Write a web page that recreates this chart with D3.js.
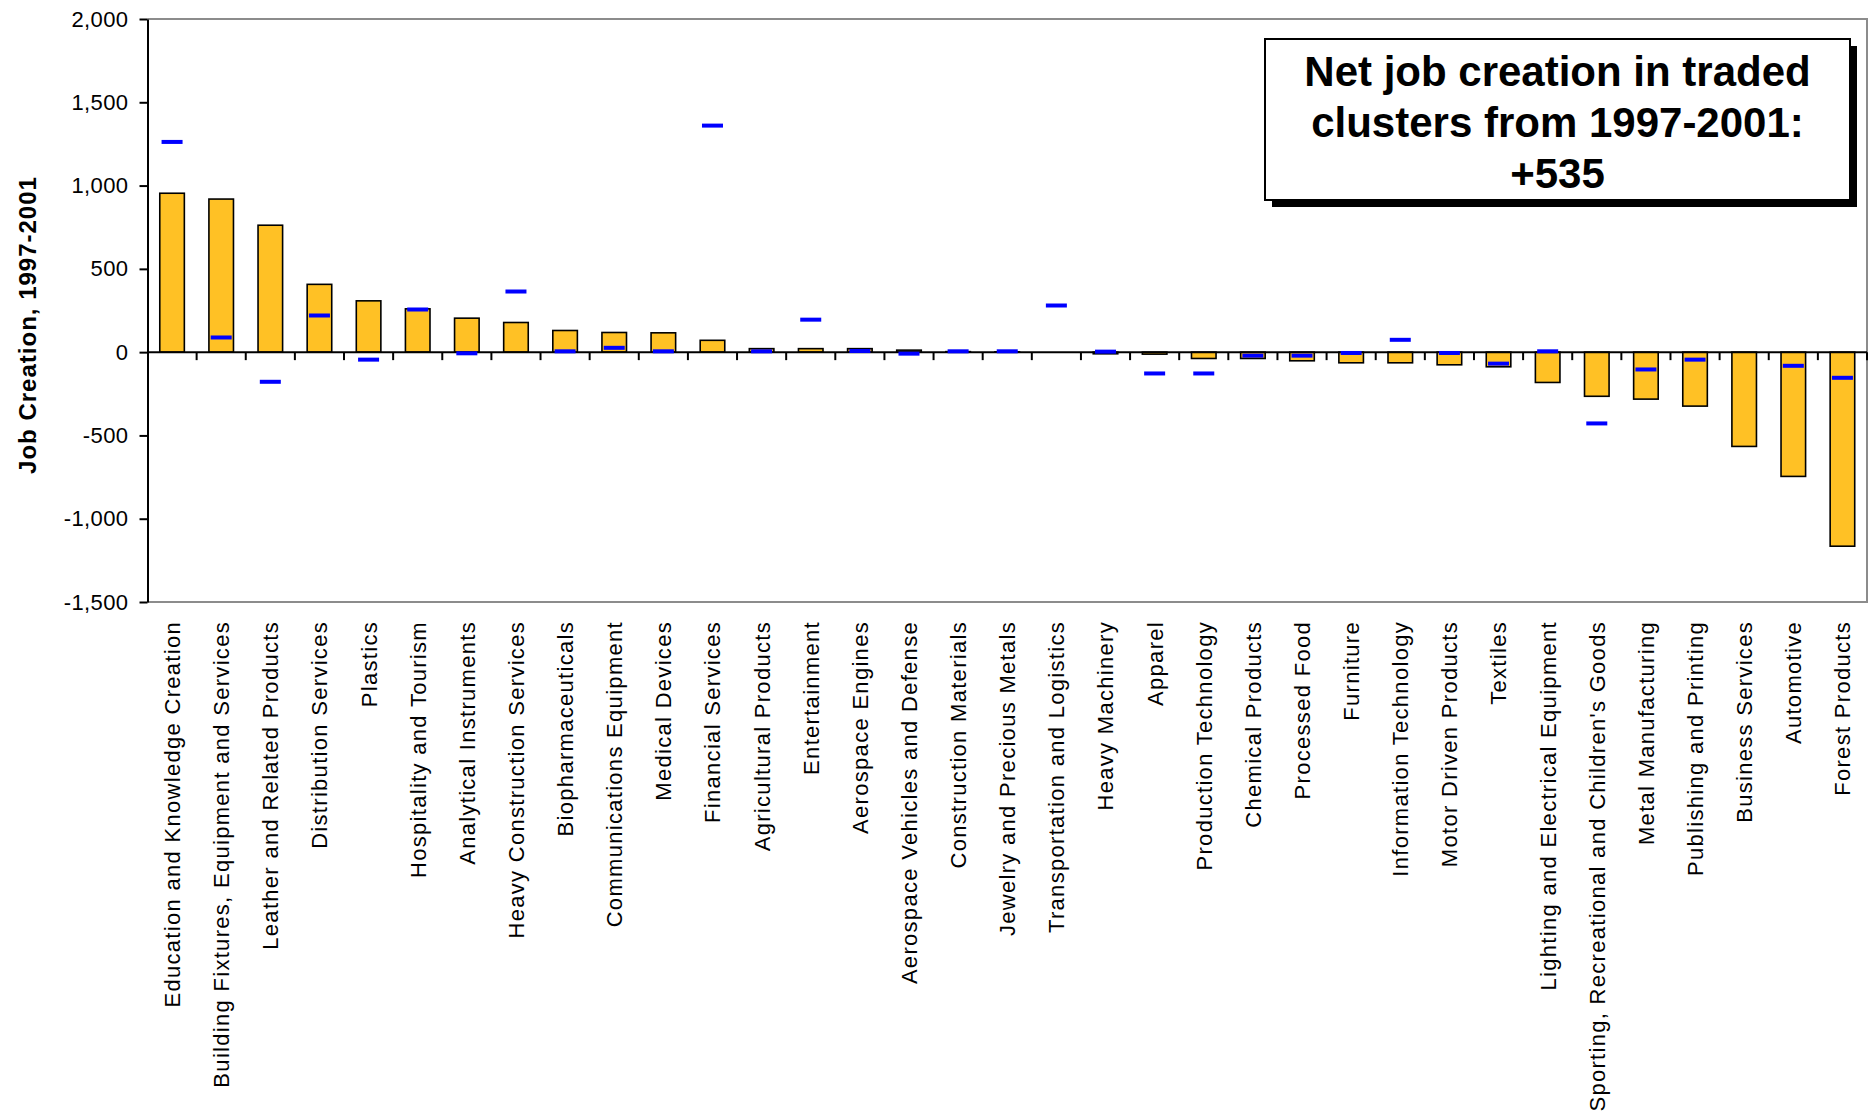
<!DOCTYPE html>
<html>
<head>
<meta charset="utf-8">
<script src="https://cdn.jsdelivr.net/npm/d3@7/dist/d3.min.js"></script>
<style>
  html, body { margin: 0; padding: 0; background: #ffffff; }
  svg { display: block; }
  text { font-family: "Liberation Sans", Arial, sans-serif; }
</style>
</head>
<body>
<svg id="chart" width="1870" height="1113"></svg>
<script>
// ---- data ----
const categories = [
  "Education and Knowledge Creation",
  "Building Fixtures, Equipment and Services",
  "Leather and Related Products",
  "Distribution Services",
  "Plastics",
  "Hospitality and Tourism",
  "Analytical Instruments",
  "Heavy Construction Services",
  "Biopharmaceuticals",
  "Communications Equipment",
  "Medical Devices",
  "Financial Services",
  "Agricultural Products",
  "Entertainment",
  "Aerospace Engines",
  "Aerospace Vehicles and Defense",
  "Construction Materials",
  "Jewelry and Precious Metals",
  "Transportation and Logistics",
  "Heavy Machinery",
  "Apparel",
  "Production Technology",
  "Chemical Products",
  "Processed Food",
  "Furniture",
  "Information Technology",
  "Motor Driven Products",
  "Textiles",
  "Lighting and Electrical Equipment",
  "Sporting, Recreational and Children's Goods",
  "Metal Manufacturing",
  "Publishing and Printing",
  "Business Services",
  "Automotive",
  "Forest Products"
];
// Net job creation 1997-2001 (bars)
const jobCreation = [
  954, 919, 762, 407, 308, 260, 204, 178, 130, 118, 116, 71, 21, 21, 21, 12,
  3, 2, 0, -10, -12, -38, -38, -52, -64, -64, -76, -88, -182, -265, -282, -324,
  -566, -746, -1165
];
// Comparison values (blue dashes)
const comparison = [
  1262, 88, -178, 220, -45, 256, -7, 364, 5, 26, 5, 1360, 5, 195, 7, -9,
  5, 5, 280, 3, -128, -128, -21, -21, -5, 74, -5, -69, 5, -428, -104, -45,
  null, -82, -154
];
const yTicks = [2000, 1500, 1000, 500, 0, -500, -1000, -1500];
const yLabel = "Job Creation, 1997-2001";
const titleLines = ["Net job creation in traded", "clusters from 1997-2001:", "+535"];

// ---- layout ----
const svg = d3.select("#chart");
const pLeft = 147.5, pRight = 1867, pTop = 19, pBottom = 602;

const x = d3.scaleBand().domain(categories).range([pLeft, pRight])
  .paddingInner(0.5).paddingOuter(0.25).align(0.5);
const y = d3.scaleLinear().domain([-1500, 2000]).range([pBottom, pTop]);
const step = x.step();

const fmt = d3.formatLocale({decimal: ".", thousands: ",", grouping: [3], currency: ["", ""], minus: "-"}).format(",");

// plot border (gray)
svg.append("path")
  .attr("d", `M${pLeft},${pTop}H${pRight}V${pBottom}H${pLeft}`)
  .attr("fill", "none").attr("stroke", "#8c8c8c").attr("stroke-width", 2);

// y axis
const yAxis = svg.append("g").attr("transform", `translate(${pLeft},0)`)
  .call(d3.axisLeft(y).tickValues(yTicks).tickFormat(fmt).tickSize(8).tickSizeOuter(0));
yAxis.select(".domain").attr("stroke", "#000").attr("stroke-width", 2);
yAxis.selectAll(".tick line").attr("stroke", "#000").attr("stroke-width", 2);
yAxis.selectAll(".tick text")
  .attr("x", -19)
  .style("font-size", "22px").style("letter-spacing", "0.4px")
  .attr("fill", "#000");

// bars
svg.append("g").selectAll("rect").data(categories).join("rect")
  .attr("x", d => x(d))
  .attr("width", x.bandwidth())
  .attr("y", (d, i) => y(Math.max(0, jobCreation[i])))
  .attr("height", (d, i) => Math.abs(y(jobCreation[i]) - y(0)))
  .attr("fill", "#FFC125")
  .attr("stroke", "#000").attr("stroke-width", 1.6);

// zero line
svg.append("line")
  .attr("x1", pLeft).attr("x2", pRight)
  .attr("y1", y(0)).attr("y2", y(0))
  .attr("stroke", "#000").attr("stroke-width", 2);

// category separator ticks
svg.append("g").selectAll("line").data(categories).join("line")
  .attr("x1", d => x(d) + step * 0.75)
  .attr("x2", d => x(d) + step * 0.75)
  .attr("y1", y(0)).attr("y2", y(0) + 8)
  .attr("stroke", "#000").attr("stroke-width", 2);

// comparison dashes
svg.append("g").selectAll("rect")
  .data(categories.map((c, i) => ({c, v: comparison[i]})).filter(d => d.v !== null))
  .join("rect")
  .attr("x", d => x(d.c) + x.bandwidth() / 2 - 10.5)
  .attr("width", 21)
  .attr("y", d => y(d.v) - 2)
  .attr("height", 4)
  .attr("fill", "#0000FF");

// category labels
const xAxis = svg.append("g").attr("transform", `translate(0,${pBottom})`)
  .call(d3.axisBottom(x).tickSize(0));
xAxis.select(".domain").remove();
xAxis.selectAll(".tick text")
  .attr("transform", "rotate(-90)")
  .attr("x", -19).attr("y", 0).attr("dy", "0.36em")
  .attr("text-anchor", "end")
  .style("font-size", "22px").style("letter-spacing", "1.3px")
  .attr("fill", "#000");

// y axis title
svg.append("text")
  .attr("transform", "translate(27,325) rotate(-90)")
  .attr("text-anchor", "middle").attr("dy", "0.36em")
  .style("font-size", "24px").style("font-weight", "bold").style("letter-spacing", "1px")
  .text(yLabel);

// title box with shadow
const bx = 1265, by = 39, bw = 585, bh = 161;
svg.append("rect").attr("x", bx + 7).attr("y", by + 7).attr("width", bw).attr("height", bh).attr("fill", "#000");
svg.append("rect").attr("x", bx).attr("y", by).attr("width", bw).attr("height", bh)
  .attr("fill", "#fff").attr("stroke", "#000").attr("stroke-width", 2);
svg.append("g").selectAll("text").data(titleLines).join("text")
  .attr("x", bx + bw / 2)
  .attr("y", (d, i) => 86 + i * 51)
  .attr("text-anchor", "middle")
  .style("font-size", "42px").style("font-weight", "bold")
  .text(d => d);
</script>
</body>
</html>
